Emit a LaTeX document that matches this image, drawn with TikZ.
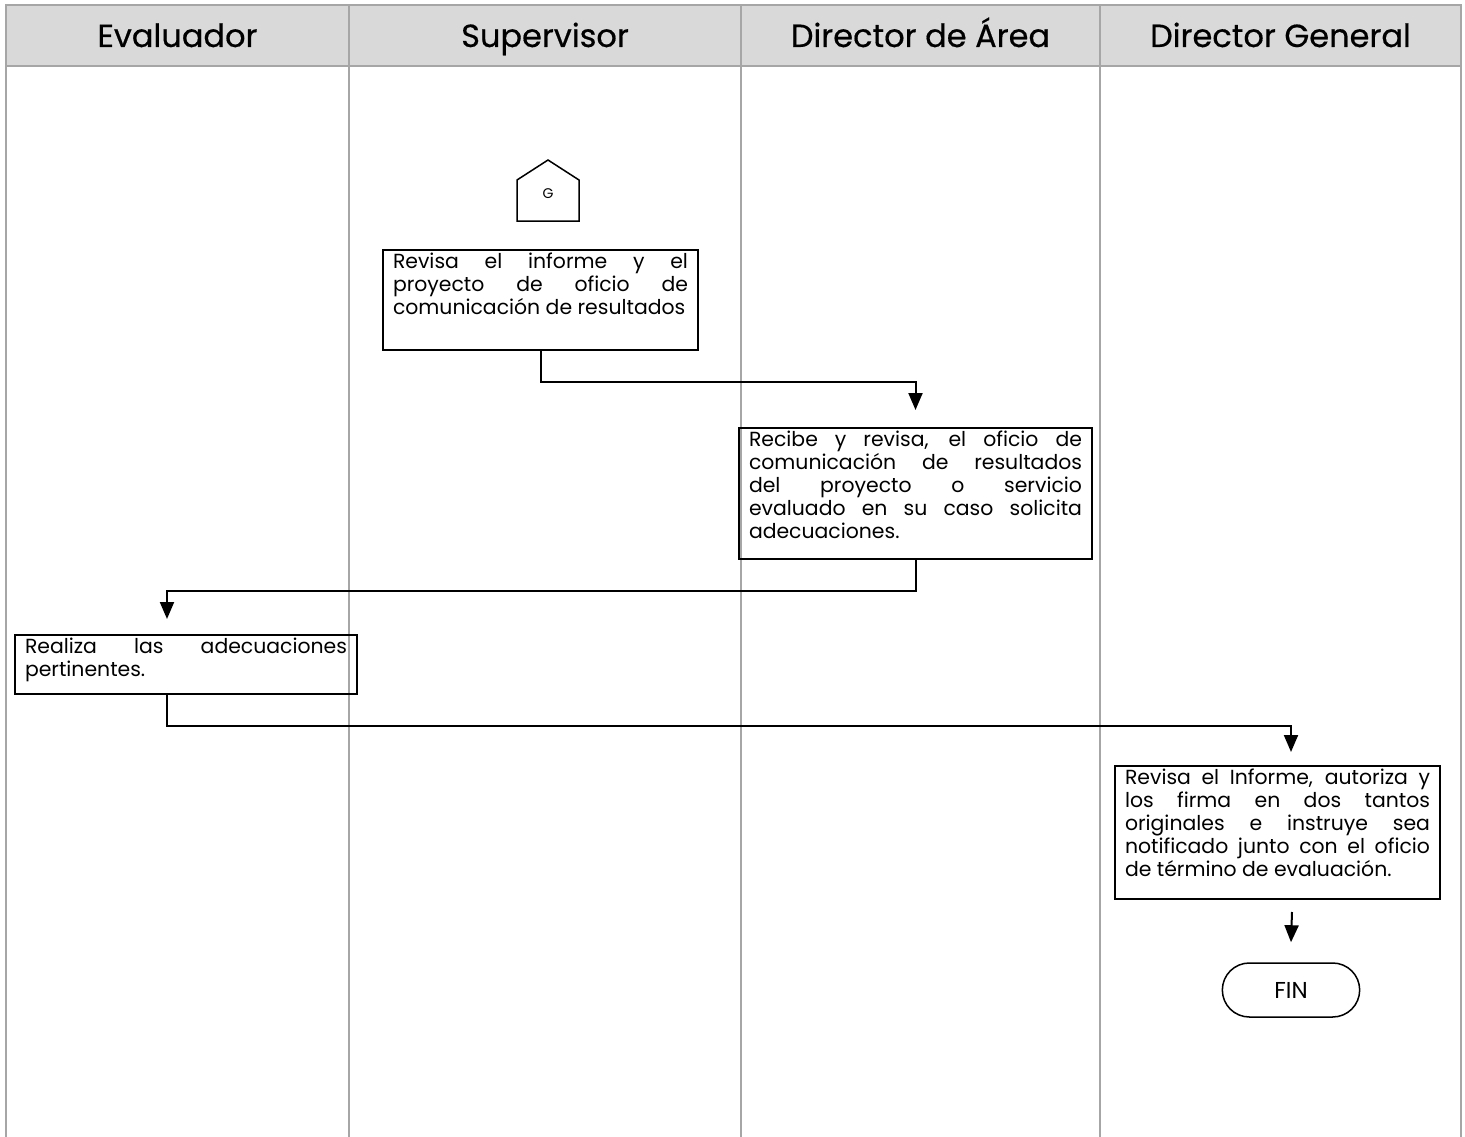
\documentclass[tikz,border=0pt]{standalone}
\usepackage{fontspec}
\setmainfont{Poppins}
\newfontfamily\headfont[FakeBold=0.5]{Poppins}
\usetikzlibrary{arrows.meta,shapes.misc}
\definecolor{lanegray}{HTML}{A6A6A6}
\definecolor{headfill}{HTML}{D9D9D9}
\tikzset{
  lane/.style={draw=lanegray, line width=1.8pt},
  headtext/.style={font=\headfont\fontsize{32}{36}\selectfont, anchor=base},
  stepbox/.style={draw=black, line width=2pt, rectangle, inner xsep=10pt, inner ysep=3pt, anchor=north west},
  flow/.style={draw=black, line width=2pt, -{Triangle[width=14pt,length=17pt]}},
  link/.style={draw=black, line width=1.5pt},
}
\newcommand{\boxtext}[3]{\parbox[c][#2][t]{#1}{\fontsize{20.4}{23}\selectfont\hyphenpenalty=10000\exhyphenpenalty=10000\rightskip=0pt #3}}
\begin{document}
\begin{tikzpicture}[x=1pt,y=-1pt]
\useasboundingbox (0,0) rectangle (1465,1137);
% header band
\fill[headfill] (6,5) rectangle (1461,66);
\draw[lane] (6,1137) -- (6,5) -- (1461,5) -- (1461,1137);
\draw[lane] (6,66) -- (1461,66);
\foreach \x in {349,741,1100} \draw[lane] (\x,5) -- (\x,1137);
\node[headtext] (h1) at (177.5,47) {Evaluador};
\node[headtext] (h2) at (545,47) {Supervisor};
\node[headtext] (h3) at (920.5,47) {Director de Área};
\node[headtext] (h4) at (1280.5,47) {Director General};

% off-page connector G
\draw[link] (517,221) -- (517,180) -- (548,160) -- (579,180) -- (579,221) -- cycle;
\node[font=\fontsize{14}{16}\selectfont] (g) at (548,194) {G};

% process steps
\node[stepbox] (b1) at (382,249) {\boxtext{295pt}{94pt}{Revisa el informe y el\linebreak proyecto de oficio de\linebreak comunicación de resultados}};
\node[stepbox] (b2) at (738,427) {\boxtext{333pt}{125pt}{Recibe y revisa, el oficio de\linebreak comunicación de resultados\linebreak del proyecto o servicio\linebreak evaluado en su caso solicita\linebreak adecuaciones.}};
\node[stepbox] (b3) at (14,634) {\boxtext{322pt}{53pt}{Realiza las adecuaciones\linebreak pertinentes.}};
\node[stepbox] (b4) at (1114,765) {\boxtext{305pt}{127pt}{Revisa el Informe, autoriza y\linebreak los firma en dos tantos\linebreak originales e instruye sea\linebreak notificado junto con el oficio\linebreak de término de evaluación.}};
\node[draw=black, line width=1.5pt, rounded rectangle, minimum width=144pt, minimum height=54pt, font=\fontsize{23}{26}\selectfont] (fin) at (1291,990) {FIN};

% arrow ends
\coordinate (t2) at ([yshift=17pt]b2.north);
\coordinate (t3) at (167,619);
\coordinate (t4) at (1291,752);

% connectors
\draw[flow] (b1.south) -- ++(0,31) -| (t2);
\draw[flow] (b2.south) -- ++(0,31) -| (t3);
\draw[flow] ([xshift=-19pt]b3.south) -- ++(0,31) -| (t4);
\draw[flow] ([xshift=14.5pt,yshift=-12pt]b4.south) -- ([yshift=20pt]fin.north);
\end{tikzpicture}
\end{document}
